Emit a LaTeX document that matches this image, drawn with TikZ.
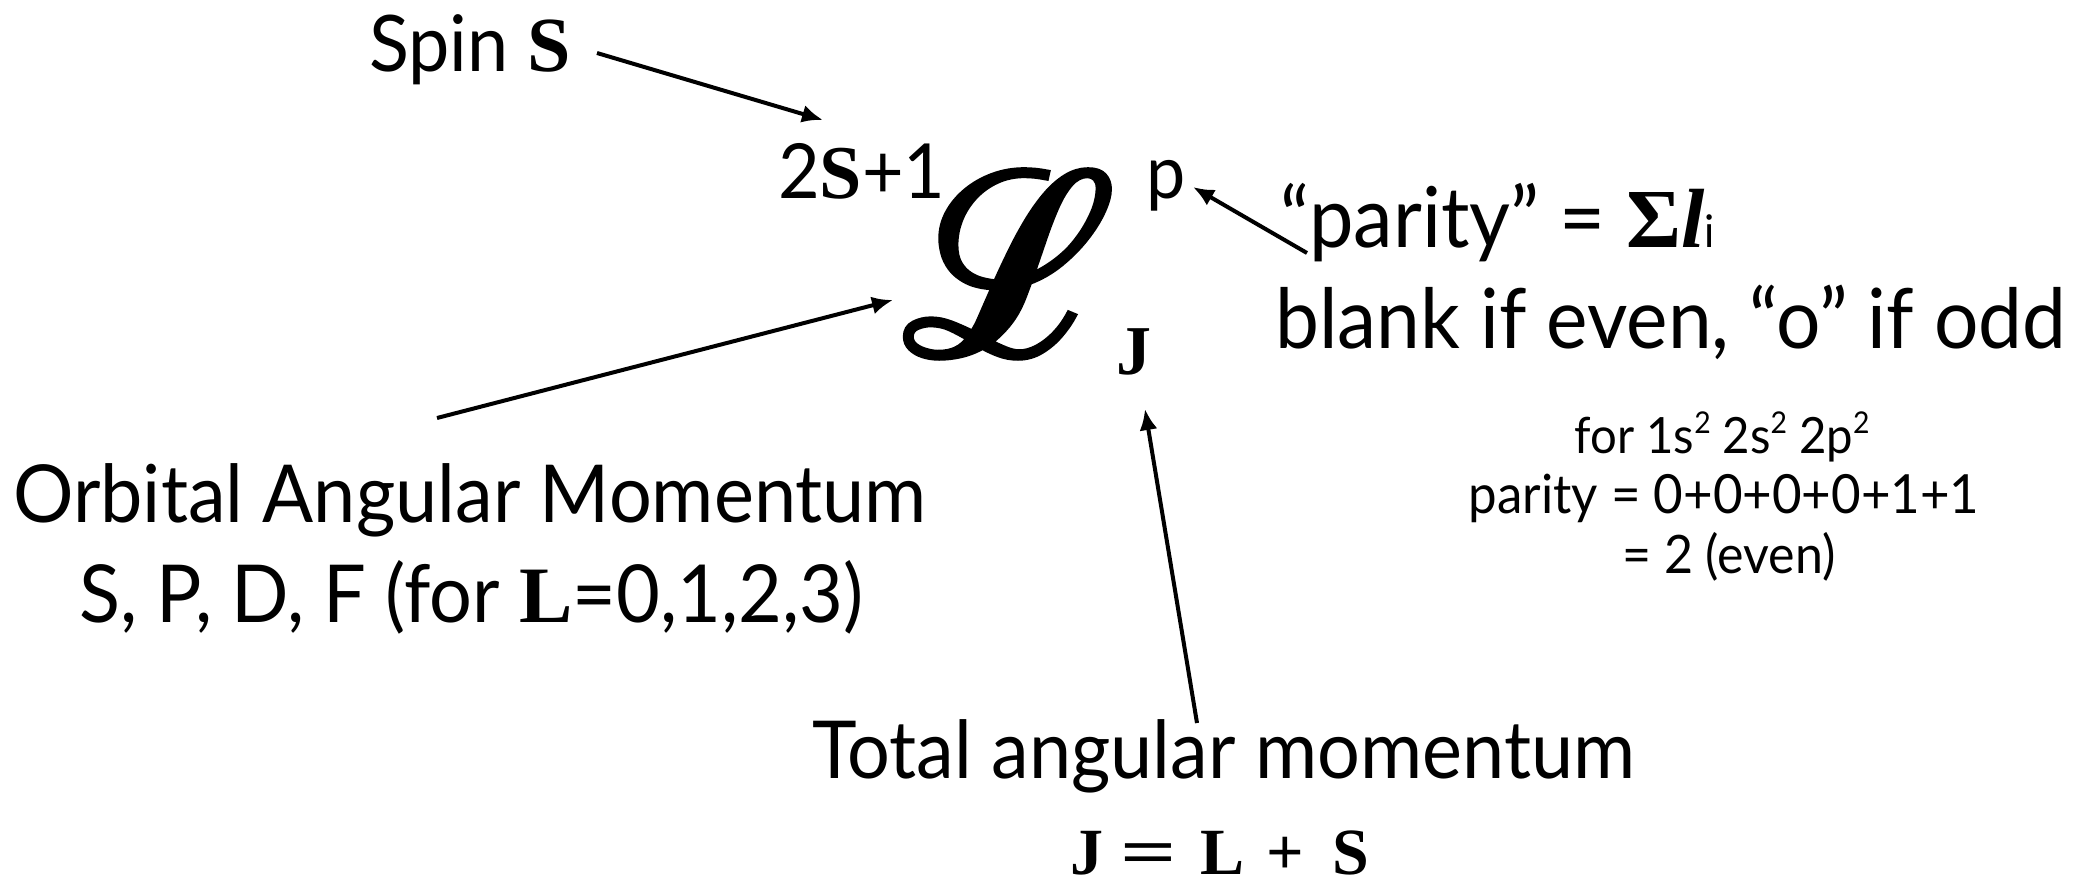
\documentclass[tikz,border=0pt]{standalone}
\usepackage{fontspec}
\usepackage{graphicx}
\setmainfont{Lato}[FakeStretch=0.945]
\newfontfamily\tms{Liberation Serif}
\newfontfamily\Lfont{Noto Sans}[FakeBold=2.5]
\usetikzlibrary{arrows.meta}
\newcommand\tbf[1]{{\tms\bfseries #1}}
\newcommand\fsz[1]{\fontsize{#1}{#1}\selectfont}
\tikzset{
  lbl/.style={inner sep=0pt, anchor=base west, font=\fsz{80}},
  arr/.style={line width=4pt, -{Latex[length=21pt,width=18pt]}},
  small/.style={inner sep=0pt, anchor=base, font=\fsz{50}},
}
\begin{document}
\begin{tikzpicture}[x=1pt,y=-1pt]
\useasboundingbox (0,0) rectangle (2076,887);
\node[lbl, font=\fsz{78}] (spin) at (369,71) {Spin \tbf{S}};
\node[lbl, font=\fsz{76}] (mult) at (778,198) {2\tbf{S}+1};
\node[lbl, font=\fsz{255}] (term) at (903,355) {{\Lfont ℒ}};
\node[lbl, font=\fsz{74}] (par) at (1146,198) {p};
\node[lbl, font=\fsz{70}] (jsub) at (1116,374) {\tbf{J}};
\node[lbl, font=\fsz{84}] (parity) at (1280,247) {“parity” = \tbf{Σ}{\tms\bfseries\itshape l}{\fsz{45}i}};
\node[lbl, font=\fsz{83}] (blank) at (1275,348) {blank if even, “o” if odd};
\node[lbl] (orb) at (13,522) {Orbital Angular Momentum};
\node[lbl] (spdf) at (79,622) {S, P, D, F (for \tbf{L}=0,1,2,3)};
\node[small] (ex1) at (1722,453) {for 1s\raisebox{20pt}{\fsz{30}2} 2s\raisebox{20pt}{\fsz{30}2} 2p\raisebox{20pt}{\fsz{30}2}};
\node[small, font=\fsz{54}] (ex2) at (1724,513) {parity = 0+0+0+0+1+1};
\node[small, font=\fsz{53}] (ex3) at (1729,573) {= 2 (even)};
\node[lbl] (total) at (812,778) {Total angular momentum};
\node[lbl, font=\fsz{66}] (jls) at (1070,874) {\tbf{J}\hspace{17pt}\tbf{\scalebox{1.5}[1]{=}}\hspace{24pt}\tbf{L}\hspace{22pt}\tbf{+}\hspace{28pt}\tbf{S}};
\coordinate (spinTail) at (597,53);
\coordinate (spinTip) at (823,120);
\coordinate (orbTail) at (437,418);
\coordinate (orbTip) at (893,300);
\coordinate (parTail) at (1307,253);
\coordinate (parTip) at (1193,187);
\coordinate (totTail) at (1197,723);
\coordinate (totTip) at (1145,409);
\draw[arr] (spinTail) -- (spinTip);
\draw[arr] (orbTail) -- (orbTip);
\draw[arr] (parTail) -- (parTip);
\draw[arr] (totTail) -- (totTip);
\end{tikzpicture}
\end{document}
